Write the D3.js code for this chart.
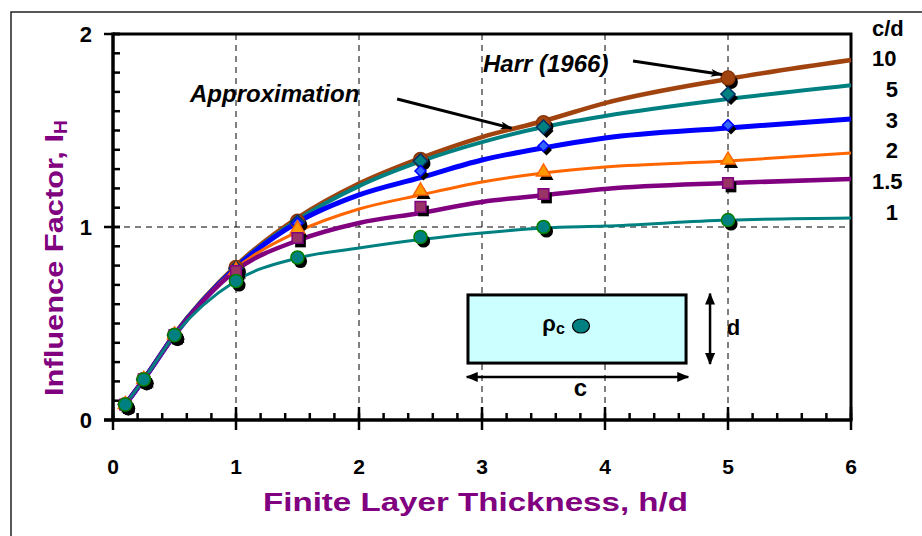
<!DOCTYPE html>
<html>
<head>
<meta charset="utf-8">
<script src="https://cdn.jsdelivr.net/npm/d3@7"></script>
<style>
  html, body { margin: 0; padding: 0; background: #fff; }
  svg { display: block; }
  text { font-family: "Liberation Sans", Arial, sans-serif; }
</style>
</head>
<body>
<svg id="chart" width="922" height="536"></svg>
<script>
// ---------- DATA ----------
const seriesNames = ["10", "5", "3", "2", "1.5", "1"];
// Approximation curves (h/d positions)
const approxX = [0.1, 0.25, 0.5, 1, 1.5, 2, 2.5, 3, 3.5, 4, 5, 6];
const approx10  = [0.08, 0.21, 0.445, 0.80, 1.047, 1.225, 1.357, 1.466, 1.549, 1.642, 1.767, 1.865];
const approx5   = [0.08, 0.21, 0.445, 0.795, 1.037, 1.212, 1.340, 1.440, 1.518, 1.575, 1.663, 1.735];
const approx3   = [0.08, 0.21, 0.44, 0.79, 1.024, 1.166, 1.256, 1.347, 1.410, 1.461, 1.513, 1.560];
const approx2   = [0.08, 0.21, 0.44, 0.785, 0.975, 1.093, 1.166, 1.233, 1.280, 1.311, 1.342, 1.383];
const approx15  = [0.08, 0.21, 0.44, 0.775, 0.930, 1.021, 1.073, 1.130, 1.165, 1.197, 1.228, 1.249];
const approx1   = [0.08, 0.21, 0.44, 0.722, 0.839, 0.891, 0.935, 0.969, 0.995, 1.005, 1.036, 1.047];
// Harr (1966) points
const harrX = [0.1, 0.25, 0.5, 1, 1.5, 2.5, 3.5, 5];
const harr10 = [0.08, 0.21, 0.44, 0.79, 1.03, 1.35, 1.54, 1.772];
const harr5  = [0.08, 0.21, 0.44, 0.785, 1.025, 1.342, 1.518, 1.689];
const harr3  = [0.08, 0.21, 0.44, 0.78, 1.02, 1.29, 1.42, 1.528];
const harr2  = [0.08, 0.21, 0.44, 0.775, 0.99, 1.187, 1.285, 1.347];
const harr15 = [0.08, 0.21, 0.44, 0.772, 0.943, 1.104, 1.171, 1.228];
const harr1  = [0.08, 0.21, 0.44, 0.72, 0.842, 0.948, 1.0, 1.036];
const xTickLabels = ["0", "1", "2", "3", "4", "5", "6"];
const yTickLabels = ["0", "1", "2"];

// ---------- STYLE ----------
const styles = [
  {line: "#A0430F", width: 4.5, shape: "circle",   size: 150, fill: "#A0430F", stroke: "#8a3608"},
  {line: "#008080", width: 4,   shape: "diamond",  size: 100, fill: "#008080", stroke: "#003366"},
  {line: "#0000FF", width: 5,   shape: "diamond",  size: 60,  fill: "#3366FF", stroke: "#0000FF"},
  {line: "#FF6600", width: 3,   shape: "triangle", size: 85,  fill: "#FF9900", stroke: "#FF6600"},
  {line: "#800080", width: 4.5, shape: "square",   size: 115, fill: "#993366", stroke: "#800080"},
  {line: "#008080", width: 3,   shape: "circle",   size: 135, fill: "#008080", stroke: "#008000"}
];
const approxAll = [approx10, approx5, approx3, approx2, approx15, approx1];
const harrAll = [harr10, harr5, harr3, harr2, harr15, harr1];

const svg = d3.select("#chart");
const x = d3.scaleLinear().domain([0, 6]).range([113, 851]);
const y = d3.scaleLinear().domain([0, 2]).range([420, 34]);

// outer frame
svg.append("rect").attr("x", 11).attr("y", 12).attr("width", 930).attr("height", 540)
  .attr("fill", "#fff").attr("stroke", "#222").attr("stroke-width", 1.5);

// grid
const grid = svg.append("g").attr("stroke", "#000").attr("stroke-width", 1).attr("stroke-dasharray", "6,5");
[1, 2, 3, 4, 5].forEach(v => grid.append("line")
  .attr("x1", x(v)).attr("x2", x(v)).attr("y1", y(2)).attr("y2", y(0)));
grid.append("line").attr("x1", x(0)).attr("x2", x(6)).attr("y1", y(1)).attr("y2", y(1));

// plot border
svg.append("path")
  .attr("d", `M${x(0)},${y(2)}H${x(6)}V${y(0)}`)
  .attr("fill", "none").attr("stroke", "#000").attr("stroke-width", 3);

// axes
const xMinor = d3.range(0, 6.001, 0.2);
const xAxisG = svg.append("g");
xAxisG.selectAll("line.minor").data(xMinor).join("line")
  .attr("x1", d => x(d)).attr("x2", d => x(d)).attr("y1", y(0)).attr("y2", y(0) - 7)
  .attr("stroke", "#000").attr("stroke-width", 2.5);
xAxisG.selectAll("line.major").data(d3.range(0, 7)).join("line")
  .attr("x1", d => x(d)).attr("x2", d => x(d)).attr("y1", y(0) - 13).attr("y2", y(0) + 10)
  .attr("stroke", "#000").attr("stroke-width", 2.5);
xAxisG.append("line").attr("x1", x(0) - 9).attr("x2", x(6) + 1.5).attr("y1", y(0)).attr("y2", y(0))
  .attr("stroke", "#000").attr("stroke-width", 3.5);
xAxisG.selectAll("text").data(xTickLabels).join("text")
  .attr("x", (d, i) => x(i)).attr("y", 474).attr("text-anchor", "middle")
  .attr("font-size", 21).attr("font-weight", "bold").text(d => d);

const yMinor = d3.range(0, 2.001, 0.1);
const yAxisG = svg.append("g");
yAxisG.selectAll("line.minor").data(yMinor).join("line")
  .attr("x1", x(0)).attr("x2", x(0) + 7).attr("y1", d => y(d)).attr("y2", d => y(d))
  .attr("stroke", "#000").attr("stroke-width", 2.5);
yAxisG.selectAll("line.major").data([0, 1, 2]).join("line")
  .attr("x1", x(0) - 9).attr("x2", x(0) + 7).attr("y1", d => y(d)).attr("y2", d => y(d))
  .attr("stroke", "#000").attr("stroke-width", 2.5);
yAxisG.append("line").attr("x1", x(0)).attr("x2", x(0)).attr("y1", y(2) - 1.5).attr("y2", y(0) + 1.5)
  .attr("stroke", "#000").attr("stroke-width", 3.5);
yAxisG.selectAll("text").data(yTickLabels).join("text")
  .attr("x", 92).attr("y", (d, i) => y(i) + 8).attr("text-anchor", "end")
  .attr("font-size", 22).attr("font-weight", "bold").text(d => d);

// axis titles
svg.append("text").attr("x", (263 + 688) / 2).attr("y", 511).attr("text-anchor", "middle")
  .attr("font-family", "'Comic Sans MS', 'DejaVu Sans', sans-serif")
  .attr("font-size", 25).attr("font-weight", "bold").attr("fill", "#800080")
  .attr("textLength", 425).attr("lengthAdjust", "spacingAndGlyphs")
  .text("Finite Layer Thickness, h/d");

const yTitle = svg.append("text").attr("transform", "translate(63,396) rotate(-90)")
  .attr("text-anchor", "start")
  .attr("font-family", "'Comic Sans MS', 'DejaVu Sans', sans-serif")
  .attr("font-size", 26).attr("font-weight", "bold").attr("fill", "#800080");
yTitle.append("tspan").attr("textLength", 262).attr("lengthAdjust", "spacingAndGlyphs")
  .text("Influence Factor, I");
yTitle.append("tspan").attr("font-size", 19).attr("dy", 4).text("H");

// curves
const line = d3.line().x(d => x(d[0])).y(d => y(d[1])).curve(d3.curveMonotoneX);
const curves = svg.append("g");
approxAll.forEach((vals, i) => {
  curves.append("path").datum(approxX.map((xv, j) => [xv, vals[j]]))
    .attr("d", line).attr("fill", "none")
    .attr("stroke", styles[i].line).attr("stroke-width", styles[i].width)
    .attr("stroke-linejoin", "round");
});

// markers
const symType = {circle: d3.symbolCircle, square: d3.symbolSquare, diamond: d3.symbolSquare, triangle: d3.symbolTriangle};
const markers = svg.append("g");
harrAll.forEach((vals, i) => {
  const st = styles[i];
  const sym = d3.symbol().type(symType[st.shape]).size(st.size);
  const rot = st.shape === "diamond" ? " rotate(45)" : "";
  const pts = harrX.map((xv, j) => [xv, vals[j]]);
  markers.selectAll(null).data(pts).join("path")
    .attr("d", sym).attr("fill", "#000")
    .attr("transform", d => `translate(${x(d[0]) + 3},${y(d[1]) + 4})${rot}`);
  markers.selectAll(null).data(pts).join("path")
    .attr("d", sym).attr("fill", st.fill).attr("stroke", st.stroke).attr("stroke-width", 1.5)
    .attr("transform", d => `translate(${x(d[0])},${y(d[1])})${rot}`);
});

// legend (c/d labels)
const legend = svg.append("g").attr("font-size", 22).attr("font-weight", "bold");
legend.append("text").attr("x", 872).attr("y", 36).text("c/d");
seriesNames.forEach((n, i) => {
  const multi = n.length > 1;
  legend.append("text").attr("x", multi ? 872 : 898).attr("y", 66 + i * 30.8)
    .attr("text-anchor", multi ? "start" : "end").text(n);
});

// annotations
const defs = svg.append("defs");
defs.append("marker").attr("id", "arrow").attr("viewBox", "0 0 12 8").attr("refX", 11).attr("refY", 4)
  .attr("markerWidth", 12).attr("markerHeight", 8).attr("markerUnits", "userSpaceOnUse")
  .attr("orient", "auto")
  .append("path").attr("d", "M0,0L12,4L0,8L3,4Z").attr("fill", "#000");

svg.append("text").attr("x", x(0.626)).attr("y", y(1.648))
  .attr("font-size", 24).attr("font-weight", "bold").attr("font-style", "italic").text("Approximation");
svg.append("line").attr("x1", x(2.31)).attr("y1", y(1.663)).attr("x2", x(3.24)).attr("y2", y(1.512))
  .attr("stroke", "#000").attr("stroke-width", 3).attr("marker-end", "url(#arrow)");

svg.append("text").attr("x", x(3.008)).attr("y", y(1.803))
  .attr("font-size", 24).attr("font-weight", "bold").attr("font-style", "italic").text("Harr (1966)");
svg.append("line").attr("x1", x(4.228)).attr("y1", y(1.86)).attr("x2", x(4.95)).attr("y2", y(1.79))
  .attr("stroke", "#000").attr("stroke-width", 3).attr("marker-end", "url(#arrow)");

// inset diagram
const inset = svg.append("g");
inset.append("rect").attr("x", x(2.886)).attr("y", y(0.648))
  .attr("width", x(4.659) - x(2.886)).attr("height", y(0.295) - y(0.648))
  .attr("fill", "#CCFFFF").attr("stroke", "#000").attr("stroke-width", 3);
const rho = inset.append("text").attr("x", x(3.49)).attr("y", y(0.46))
  .attr("font-size", 22).attr("font-weight", "bold");
rho.append("tspan").text("ρ");
rho.append("tspan").attr("font-size", 16).attr("dy", 3).text("c");
inset.append("ellipse").attr("cx", x(3.805)).attr("cy", y(0.487)).attr("rx", 8.5).attr("ry", 7)
  .attr("fill", "#008080").attr("stroke", "#000").attr("stroke-width", 1.2);

defs.append("marker").attr("id", "dbl").attr("viewBox", "0 0 12 10").attr("refX", 11).attr("refY", 5)
  .attr("markerWidth", 12).attr("markerHeight", 10).attr("markerUnits", "userSpaceOnUse")
  .attr("orient", "auto-start-reverse")
  .append("path").attr("d", "M0,0L12,5L0,10Z").attr("fill", "#000");
inset.append("line").attr("x1", x(4.854)).attr("x2", x(4.854)).attr("y1", y(0.655)).attr("y2", y(0.29))
  .attr("stroke", "#000").attr("stroke-width", 2.5)
  .attr("marker-start", "url(#dbl)").attr("marker-end", "url(#dbl)");
inset.append("line").attr("x1", x(2.876)).attr("x2", x(4.677)).attr("y1", y(0.223)).attr("y2", y(0.223))
  .attr("stroke", "#000").attr("stroke-width", 2.5)
  .attr("marker-start", "url(#dbl)").attr("marker-end", "url(#dbl)");
inset.append("text").attr("x", x(4.99)).attr("y", y(0.44)).attr("font-size", 22).attr("font-weight", "bold").text("d");
inset.append("text").attr("x", x(3.8)).attr("y", y(0.125)).attr("text-anchor", "middle")
  .attr("font-size", 24).attr("font-weight", "bold").text("c");
</script>
</body>
</html>
